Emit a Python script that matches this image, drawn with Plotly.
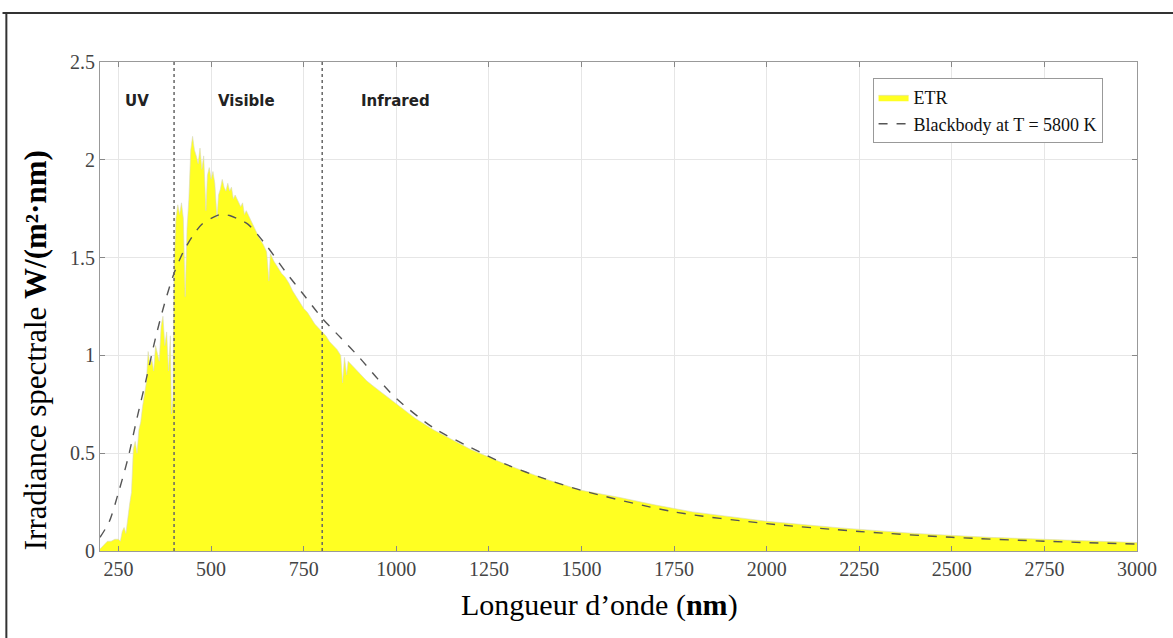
import plotly.graph_objects as go

# ---------------- data ----------------
etr_wl = [200, 210, 220, 230, 240, 250, 255, 260, 265, 270, 275, 280, 285, 290, 295,
          300, 305, 310, 315, 320, 325, 330, 335, 340, 345, 350, 355, 360, 365, 370,
          375, 380, 385, 390, 393, 397, 400, 405, 410, 415, 420, 425, 430, 435, 440,
          445, 450, 455, 460, 465, 470, 475, 480, 486, 490, 495, 500, 505, 510, 516,
          520, 525, 530, 535, 540, 545, 550, 555, 560, 565, 570, 575, 580, 585, 590,
          595, 600, 610, 620, 630, 640, 650, 656, 660, 670, 680, 690, 700, 710, 720,
          730, 740, 750, 760, 770, 780, 790, 800, 810, 820, 830, 840, 850, 855, 860,
          866, 870, 880, 890, 900, 920, 940, 960, 980, 1000, 1050, 1100, 1150, 1200,
          1250, 1300, 1400, 1500, 1600, 1700, 1800, 1900, 2000, 2200, 2400, 2600,
          2800, 3000]
etr_val = [0.01, 0.03, 0.05, 0.05, 0.06, 0.06, 0.05, 0.10, 0.12, 0.09, 0.18, 0.24, 0.30,
           0.52, 0.56, 0.50, 0.62, 0.66, 0.74, 0.80, 0.86, 1.02, 0.95, 0.98, 0.92, 1.05,
           1.00, 0.97, 1.15, 1.20, 1.05, 1.12, 0.92, 1.10, 0.70, 0.78, 1.45, 1.70, 1.77,
           1.72, 1.78, 1.70, 1.30, 1.65, 1.80, 2.05, 2.12, 2.05, 2.02, 1.98, 2.06, 1.95,
           2.02, 1.74, 1.92, 1.96, 1.90, 1.94, 1.88, 1.70, 1.82, 1.85, 1.90, 1.86, 1.84,
           1.88, 1.84, 1.86, 1.80, 1.82, 1.80, 1.78, 1.76, 1.78, 1.72, 1.74, 1.72, 1.68,
           1.64, 1.60, 1.57, 1.53, 1.38, 1.52, 1.48, 1.45, 1.42, 1.40, 1.37, 1.33, 1.30,
           1.27, 1.24, 1.22, 1.19, 1.16, 1.14, 1.12, 1.10, 1.07, 1.05, 1.03, 1.00, 0.86,
           0.99, 0.90, 0.97, 0.95, 0.93, 0.91, 0.87, 0.84, 0.81, 0.78, 0.75, 0.68, 0.62,
           0.57, 0.52, 0.48, 0.44, 0.37, 0.31, 0.275, 0.235, 0.20, 0.175, 0.152, 0.118,
           0.09, 0.07, 0.055, 0.043]

bb_wl = [200, 225, 250, 275, 300, 325, 350, 375, 400, 425, 450, 475, 500, 525, 550,
         575, 600, 650, 700, 750, 800, 850, 900, 950, 1000, 1100, 1200, 1300, 1400,
         1500, 1750, 2000, 2250, 2500, 2750, 3000]
bb_val = [0.07, 0.15, 0.30, 0.47, 0.68, 0.88, 1.09, 1.27, 1.42, 1.53, 1.61, 1.67, 1.70,
          1.72, 1.715, 1.695, 1.67, 1.56, 1.43, 1.31, 1.19, 1.09, 0.99, 0.88, 0.78,
          0.63, 0.53, 0.44, 0.37, 0.31, 0.20, 0.14, 0.10, 0.07, 0.05, 0.035]

band_limits = [400, 800]
band_names = ["UV", "Visible", "Infrared"]
band_label_x = [299, 596, 999]
band_label_y = 2.30

x_ticks = [250, 500, 750, 1000, 1250, 1500, 1750, 2000, 2250, 2500, 2750, 3000]
y_ticks = [0, 0.5, 1, 1.5, 2, 2.5]
y_tick_text = ["0", "0.5", "1", "1.5", "2", "2.5"]

SERIF = "Liberation Serif, Times New Roman, serif"

fig = go.Figure()

fig.add_trace(go.Scatter(
    x=etr_wl, y=etr_val, name="ETR", mode="lines",
    fill="tozeroy", fillcolor="#ffff22",
    line=dict(color="#d8d8c0", width=0.6),
))

fig.add_trace(go.Scatter(
    x=bb_wl, y=bb_val, name="Blackbody at T = 5800 K", mode="lines",
    line=dict(color="#555555", width=1.4, dash="dash", shape="spline", smoothing=0.8),
))

for b in band_limits:
    fig.add_trace(go.Scatter(
        x=[b, b], y=[0, 2.5], mode="lines", showlegend=False, hoverinfo="skip",
        line=dict(color="#666666", width=1.5, dash="dot"),
    ))

for name, bx in zip(band_names, band_label_x):
    fig.add_annotation(x=bx, y=band_label_y, text="<b>%s</b>" % name, showarrow=False,
                       font=dict(family="DejaVu Sans", size=15, color="#222222"))

# axis titles
fig.add_annotation(xref="paper", yref="paper", x=0.482, y=-0.110, yanchor="middle",
                   text="Longueur d\u2019onde (<b>nm</b>)", showarrow=False,
                   font=dict(family=SERIF, size=30, color="#000000"))
fig.add_annotation(xref="paper", yref="paper", x=-0.062, y=0.41, textangle=-90,
                   xanchor="center", yanchor="middle",
                   text="Irradiance spectrale <b>W/(m\u00b2\u00b7nm)</b>", showarrow=False,
                   font=dict(family=SERIF, size=31, color="#000000"))

# outer frame (top and left edges visible in the reference)
fig.add_shape(type="line", xref="paper", yref="paper", x0=-0.094, x1=1.2, y0=1.1002, y1=1.1002,
              line=dict(color="#333333", width=2))
fig.add_shape(type="line", xref="paper", yref="paper", x0=-0.0903, x1=-0.0903, y0=1.1002, y1=-0.3,
              line=dict(color="#333333", width=2))

fig.update_layout(
    width=1173, height=638,
    margin=dict(l=100, r=36, t=62, b=87),
    paper_bgcolor="white", plot_bgcolor="white",
    showlegend=True,
    legend=dict(x=0.745, y=0.967, xanchor="left", yanchor="top",
                bgcolor="white", bordercolor="#999999", borderwidth=1,
                font=dict(family=SERIF, size=18, color="#111111"),
                itemwidth=30, tracegroupgap=0),
)

fig.update_xaxes(
    range=[200, 3000], tickvals=x_ticks, ticks="inside", ticklen=5, tickcolor="#888888",
    showline=True, linecolor="#999999", linewidth=1, mirror="ticks",
    showgrid=True, gridcolor="#e6e6e6", gridwidth=1, zeroline=False,
    tickfont=dict(family=SERIF, size=20, color="#444444"),
)
fig.update_yaxes(
    range=[0, 2.5], tickvals=y_ticks, ticktext=y_tick_text, ticks="inside", ticklen=5,
    tickcolor="#888888",
    showline=True, linecolor="#999999", linewidth=1, mirror="ticks",
    showgrid=True, gridcolor="#e6e6e6", gridwidth=1, zeroline=False,
    tickfont=dict(family=SERIF, size=20, color="#444444"),
)

fig.write_html("out.html")
